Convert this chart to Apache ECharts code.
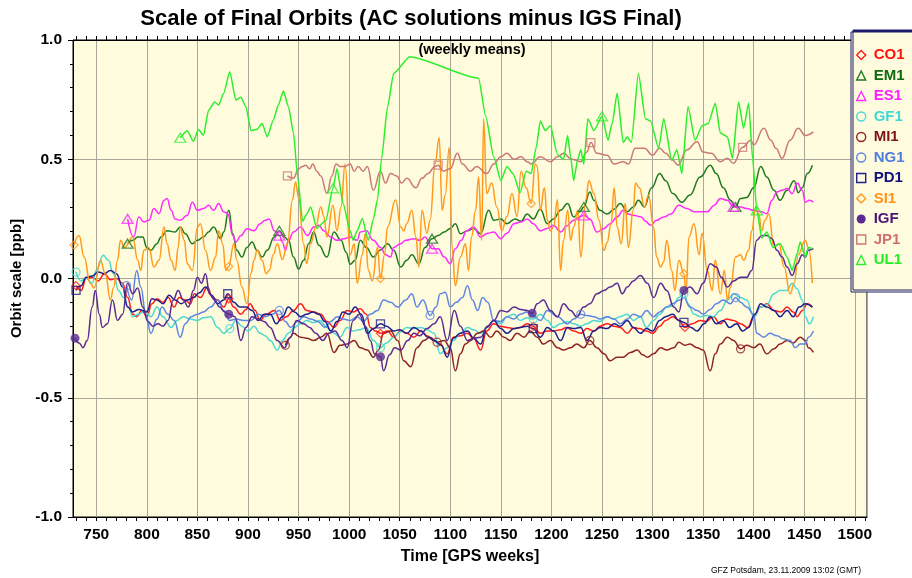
<!DOCTYPE html>
<html>
<head>
<meta charset="utf-8">
<script src="https://cdn.jsdelivr.net/npm/echarts@6/dist/echarts.min.js"></script>
<style>
html,body{margin:0;padding:0;background:#fff}
#chart{width:912px;height:578px}
</style>
</head>
<body>
<div id="chart"></div>
<script>
// Axis ticks
const xTickLabels = [750, 800, 850, 900, 950, 1000, 1050, 1100, 1150, 1200, 1250, 1300, 1350, 1400, 1450, 1500];
const xMinorTicks = [730, 740, 750, 760, 770, 780, 790, 800, 810, 820, 830, 840, 850, 860, 870, 880, 890, 900, 910, 920, 930, 940, 950, 960, 970, 980, 990, 1000, 1010, 1020, 1030, 1040, 1050, 1060, 1070, 1080, 1090, 1100, 1110, 1120, 1130, 1140, 1150, 1160, 1170, 1180, 1190, 1200, 1210, 1220, 1230, 1240, 1250, 1260, 1270, 1280, 1290, 1300, 1310, 1320, 1330, 1340, 1350, 1360, 1370, 1380, 1390, 1400, 1410, 1420, 1430, 1440, 1450, 1460, 1470, 1480, 1490, 1500, 1510];
const yTickLabels = [-1.0, -0.5, 0.0, 0.5, 1.0];

// Weekly orbit scale per analysis centre: [GPS week, ppb]
const co1 = [[730,-0.03],[735,-0.05],[740,0.0],[746,0.005],[752,-0.01],[758,0.02],[764,-0.005],[770,0.0],[776,-0.02],[781,-0.08],[786,-0.15],[790,-0.16],[795,-0.134],[800,-0.16],[805,-0.106],[810,-0.085],[816,-0.1],[821,-0.08],[827,-0.12],[832,-0.08],[838,-0.09],[843,-0.106],[847,-0.064],[853,-0.08],[860,-0.036],[865,-0.08],[870,-0.09],[876,-0.12],[881,-0.085],[886,-0.12],[893,-0.15],[898,-0.13],[902,-0.106],[907,-0.134],[912,-0.176],[918,-0.15],[926,-0.134],[932,-0.176],[938,-0.16],[945,-0.134],[952,-0.106],[958,-0.134],[965,-0.14],[972,-0.15],[978,-0.18],[985,-0.205],[991,-0.176],[998,-0.134],[1004,-0.14],[1011,-0.127],[1017,-0.15],[1021,-0.205],[1026,-0.22],[1031,-0.23],[1038,-0.22],[1044,-0.246],[1051,-0.22],[1057,-0.23],[1064,-0.246],[1071,-0.22],[1077,-0.24],[1084,-0.26],[1090,-0.275],[1097,-0.316],[1103,-0.246],[1110,-0.24],[1117,-0.23],[1123,-0.25],[1130,-0.30],[1136,-0.22],[1143,-0.19],[1149,-0.2],[1156,-0.205],[1163,-0.21],[1169,-0.205],[1176,-0.19],[1182,-0.2],[1189,-0.23],[1196,-0.22],[1202,-0.22],[1209,-0.215],[1215,-0.205],[1222,-0.22],[1229,-0.23],[1235,-0.21],[1242,-0.22],[1248,-0.2],[1255,-0.19],[1262,-0.2],[1268,-0.205],[1275,-0.23],[1281,-0.205],[1287,-0.21],[1294,-0.22],[1300,-0.23],[1307,-0.2],[1313,-0.176],[1320,-0.16],[1326,-0.176],[1332,-0.205],[1339,-0.19],[1347,-0.176],[1353,-0.18],[1360,-0.16],[1367,-0.19],[1373,-0.17],[1380,-0.176],[1387,-0.19],[1394,-0.205],[1400,-0.16],[1407,-0.12],[1413,-0.106],[1420,-0.134],[1427,-0.14],[1433,-0.12],[1439,-0.14],[1443,-0.16],[1448,-0.134],[1453,-0.106],[1458,-0.12]];

const em1 = [[781,0.146],[786,0.16],[791,0.174],[796,0.174],[800,0.13],[804,0.118],[810,0.146],[814,0.174],[820,0.2],[828,0.195],[833,0.216],[838,0.188],[845,0.146],[850,0.16],[856,0.174],[861,0.195],[866,0.216],[873,0.167],[876,0.195],[881,0.286],[885,0.188],[889,0.118],[894,0.09],[899,0.13],[904,0.153],[909,0.118],[914,0.09],[919,0.118],[926,0.174],[931,0.2],[936,0.174],[940,0.16],[945,0.09],[950,0.04],[955,0.076],[960,0.146],[965,0.195],[970,0.139],[978,0.09],[985,0.195],[992,0.16],[997,0.11],[1001,0.06],[1006,0.076],[1011,0.16],[1017,0.13],[1024,0.09],[1031,0.12],[1038,0.146],[1044,0.118],[1051,0.048],[1057,0.076],[1062,0.10],[1069,0.062],[1075,0.13],[1082,0.167],[1088,0.18],[1094,0.195],[1100,0.21],[1105,0.23],[1110,0.188],[1117,0.2],[1123,0.21],[1130,0.188],[1138,0.286],[1143,0.244],[1150,0.25],[1156,0.23],[1164,0.25],[1170,0.24],[1176,0.27],[1182,0.25],[1189,0.29],[1196,0.23],[1202,0.25],[1209,0.286],[1216,0.314],[1222,0.258],[1228,0.28],[1232,0.30],[1238,0.363],[1242,0.328],[1248,0.286],[1255,0.27],[1262,0.29],[1268,0.314],[1275,0.28],[1281,0.30],[1286,0.328],[1292,0.30],[1299,0.38],[1307,0.44],[1313,0.41],[1320,0.356],[1329,0.32],[1337,0.35],[1347,0.426],[1357,0.475],[1363,0.44],[1370,0.38],[1377,0.328],[1382,0.30],[1387,0.335],[1393,0.34],[1400,0.38],[1407,0.47],[1413,0.426],[1420,0.37],[1426,0.328],[1433,0.37],[1440,0.41],[1444,0.36],[1448,0.38],[1453,0.44],[1458,0.475]];

const es1 = [[781,0.25],[787,0.174],[792,0.258],[797,0.237],[802,0.244],[807,0.293],[812,0.272],[817,0.328],[820,0.335],[824,0.286],[828,0.25],[833,0.244],[840,0.265],[845,0.32],[850,0.286],[856,0.293],[861,0.307],[866,0.286],[871,0.314],[876,0.28],[880,0.272],[885,0.18],[888,0.153],[893,0.18],[899,0.209],[906,0.2],[912,0.23],[917,0.244],[921,0.25],[926,0.2],[931,0.18],[934,0.153],[937,0.118],[940,0.16],[945,0.195],[952,0.216],[959,0.18],[965,0.216],[970,0.223],[975,0.2],[982,0.174],[988,0.16],[995,0.167],[1001,0.174],[1008,0.16],[1011,0.195],[1017,0.2],[1024,0.16],[1031,0.13],[1036,0.10],[1041,0.09],[1044,0.13],[1051,0.146],[1056,0.16],[1064,0.167],[1070,0.16],[1075,0.174],[1082,0.125],[1088,0.125],[1094,0.09],[1100,0.062],[1105,0.125],[1111,0.16],[1116,0.2],[1123,0.216],[1130,0.174],[1137,0.19],[1143,0.195],[1150,0.167],[1156,0.19],[1163,0.23],[1170,0.237],[1176,0.25],[1182,0.23],[1189,0.2],[1196,0.21],[1202,0.223],[1209,0.195],[1215,0.22],[1222,0.244],[1228,0.258],[1232,0.265],[1238,0.25],[1245,0.195],[1252,0.21],[1258,0.23],[1265,0.258],[1271,0.286],[1276,0.27],[1281,0.265],[1289,0.258],[1293,0.24],[1298,0.223],[1304,0.244],[1311,0.258],[1318,0.27],[1326,0.307],[1334,0.293],[1341,0.28],[1347,0.28],[1354,0.28],[1361,0.307],[1367,0.335],[1374,0.328],[1380,0.30],[1387,0.30],[1393,0.293],[1400,0.286],[1407,0.28],[1413,0.272],[1418,0.328],[1423,0.363],[1428,0.37],[1433,0.377],[1438,0.356],[1443,0.40],[1448,0.37],[1451,0.32],[1455,0.328],[1459,0.32]];

const gf1 = [[730,0.027],[735,-0.01],[740,0.0],[746,-0.02],[750,0.034],[757,0.097],[762,0.076],[767,0.02],[772,-0.05],[777,-0.08],[782,-0.12],[786,-0.16],[792,-0.15],[798,-0.134],[804,-0.16],[810,-0.12],[816,-0.16],[824,-0.205],[830,-0.176],[836,-0.16],[843,-0.17],[850,-0.176],[856,-0.165],[863,-0.16],[870,-0.205],[876,-0.23],[882,-0.21],[888,-0.176],[894,-0.2],[900,-0.22],[906,-0.2],[912,-0.23],[917,-0.24],[922,-0.26],[929,-0.30],[934,-0.26],[940,-0.23],[946,-0.205],[952,-0.19],[958,-0.176],[965,-0.185],[971,-0.176],[978,-0.205],[985,-0.23],[991,-0.246],[998,-0.205],[1004,-0.22],[1010,-0.215],[1017,-0.205],[1024,-0.26],[1031,-0.29],[1037,-0.27],[1044,-0.246],[1050,-0.225],[1057,-0.205],[1064,-0.21],[1071,-0.205],[1077,-0.215],[1084,-0.23],[1090,-0.316],[1097,-0.29],[1103,-0.26],[1110,-0.23],[1117,-0.205],[1123,-0.215],[1130,-0.23],[1137,-0.2],[1143,-0.176],[1150,-0.19],[1156,-0.16],[1163,-0.15],[1169,-0.176],[1176,-0.165],[1182,-0.17],[1189,-0.15],[1196,-0.176],[1202,-0.205],[1209,-0.19],[1216,-0.18],[1222,-0.19],[1229,-0.2],[1235,-0.19],[1242,-0.176],[1248,-0.18],[1255,-0.16],[1262,-0.17],[1268,-0.16],[1275,-0.15],[1281,-0.176],[1288,-0.16],[1294,-0.205],[1301,-0.176],[1307,-0.15],[1314,-0.12],[1320,-0.115],[1326,-0.08],[1331,-0.064],[1335,-0.106],[1341,-0.15],[1347,-0.16],[1354,-0.155],[1360,-0.16],[1367,-0.134],[1374,-0.09],[1380,-0.064],[1387,-0.08],[1393,-0.09],[1400,-0.16],[1407,-0.12],[1413,-0.11],[1420,-0.064],[1426,-0.05],[1433,-0.05],[1438,-0.02],[1443,-0.044],[1448,-0.09],[1451,-0.16],[1455,-0.19],[1459,-0.16]];

const mi1 = [[937,-0.28],[941,-0.25],[945,-0.23],[952,-0.246],[958,-0.25],[965,-0.26],[972,-0.246],[978,-0.23],[985,-0.31],[991,-0.28],[998,-0.275],[1005,-0.26],[1011,-0.29],[1018,-0.30],[1024,-0.33],[1029,-0.30],[1034,-0.23],[1041,-0.22],[1048,-0.26],[1054,-0.345],[1061,-0.37],[1067,-0.29],[1074,-0.26],[1080,-0.246],[1087,-0.267],[1094,-0.26],[1100,-0.29],[1105,-0.387],[1110,-0.316],[1115,-0.275],[1120,-0.26],[1127,-0.23],[1133,-0.22],[1140,-0.246],[1146,-0.22],[1153,-0.246],[1159,-0.26],[1166,-0.23],[1173,-0.246],[1179,-0.22],[1186,-0.246],[1192,-0.275],[1199,-0.26],[1206,-0.29],[1212,-0.30],[1219,-0.29],[1225,-0.275],[1232,-0.29],[1238,-0.26],[1245,-0.29],[1252,-0.316],[1258,-0.345],[1265,-0.33],[1271,-0.33],[1278,-0.31],[1285,-0.30],[1290,-0.32],[1295,-0.33],[1301,-0.316],[1308,-0.29],[1314,-0.30],[1321,-0.29],[1326,-0.267],[1332,-0.28],[1337,-0.275],[1344,-0.29],[1350,-0.30],[1357,-0.387],[1362,-0.316],[1367,-0.275],[1374,-0.246],[1380,-0.26],[1387,-0.295],[1393,-0.28],[1400,-0.29],[1406,-0.275],[1413,-0.316],[1420,-0.295],[1426,-0.275],[1433,-0.26],[1439,-0.27],[1446,-0.246],[1451,-0.26],[1454,-0.29],[1459,-0.31]];

const ng1 = [[780,-0.03],[785,-0.09],[790,0.034],[794,-0.036],[799,-0.15],[804,-0.23],[810,-0.17],[815,-0.12],[821,-0.15],[827,-0.176],[833,-0.246],[838,-0.19],[844,-0.16],[850,-0.15],[856,-0.14],[863,-0.12],[870,-0.09],[876,-0.134],[882,-0.176],[888,-0.17],[896,-0.176],[903,-0.176],[910,-0.15],[917,-0.16],[924,-0.15],[931,-0.134],[937,-0.18],[942,-0.205],[949,-0.18],[955,-0.16],[962,-0.17],[969,-0.18],[976,-0.205],[982,-0.18],[988,-0.16],[994,-0.17],[1001,-0.176],[1008,-0.16],[1014,-0.18],[1021,-0.15],[1028,-0.134],[1034,-0.09],[1041,-0.1],[1048,-0.12],[1056,-0.09],[1062,-0.064],[1067,-0.12],[1073,-0.09],[1080,-0.155],[1086,-0.12],[1090,-0.064],[1095,-0.058],[1100,-0.12],[1106,-0.1],[1112,-0.08],[1117,-0.03],[1122,-0.09],[1127,-0.134],[1132,-0.08],[1137,-0.1],[1143,-0.176],[1150,-0.18],[1156,-0.16],[1163,-0.17],[1169,-0.15],[1176,-0.14],[1183,-0.16],[1189,-0.176],[1196,-0.134],[1206,-0.16],[1216,-0.19],[1222,-0.17],[1229,-0.15],[1235,-0.155],[1242,-0.16],[1248,-0.17],[1255,-0.16],[1262,-0.17],[1268,-0.19],[1275,-0.17],[1281,-0.15],[1288,-0.16],[1294,-0.134],[1301,-0.16],[1307,-0.14],[1314,-0.12],[1320,-0.105],[1327,-0.09],[1331,-0.08],[1337,-0.12],[1344,-0.134],[1350,-0.15],[1357,-0.13],[1363,-0.106],[1370,-0.09],[1377,-0.106],[1382,-0.08],[1387,-0.1],[1393,-0.12],[1400,-0.15],[1403,-0.23],[1410,-0.246],[1416,-0.23],[1423,-0.24],[1429,-0.253],[1436,-0.26],[1441,-0.29],[1446,-0.275],[1451,-0.275],[1454,-0.246],[1459,-0.22]];

const pd1 = [[730,-0.05],[735,-0.03],[740,0.005],[746,0.01],[752,0.027],[758,0.02],[764,0.034],[770,0.02],[776,-0.036],[781,-0.12],[786,-0.14],[792,-0.13],[800,-0.14],[805,-0.085],[810,-0.09],[816,-0.106],[822,-0.07],[828,-0.09],[834,-0.106],[840,-0.09],[846,-0.08],[852,-0.06],[858,-0.036],[864,-0.07],[870,-0.106],[876,-0.09],[880,-0.064],[886,-0.1],[892,-0.12],[898,-0.12],[904,-0.134],[910,-0.176],[916,-0.15],[922,-0.15],[928,-0.19],[934,-0.16],[940,-0.12],[946,-0.14],[952,-0.16],[958,-0.15],[964,-0.14],[970,-0.15],[976,-0.18],[982,-0.22],[988,-0.18],[994,-0.14],[1000,-0.15],[1006,-0.12],[1012,-0.15],[1018,-0.23],[1024,-0.21],[1031,-0.19],[1037,-0.2],[1044,-0.22],[1050,-0.215],[1057,-0.23],[1064,-0.205],[1071,-0.22],[1078,-0.246],[1084,-0.26],[1091,-0.28],[1097,-0.33],[1103,-0.25],[1110,-0.23],[1117,-0.22],[1123,-0.25],[1130,-0.275],[1136,-0.205],[1143,-0.176],[1150,-0.21],[1156,-0.23],[1163,-0.21],[1169,-0.205],[1176,-0.2],[1182,-0.21],[1189,-0.246],[1196,-0.205],[1202,-0.22],[1209,-0.26],[1216,-0.205],[1222,-0.21],[1229,-0.205],[1235,-0.26],[1242,-0.22],[1248,-0.205],[1255,-0.21],[1262,-0.19],[1268,-0.2],[1275,-0.176],[1281,-0.205],[1288,-0.23],[1294,-0.21],[1300,-0.22],[1307,-0.176],[1313,-0.16],[1320,-0.15],[1326,-0.176],[1331,-0.184],[1338,-0.205],[1344,-0.22],[1351,-0.19],[1357,-0.16],[1363,-0.19],[1370,-0.176],[1376,-0.205],[1383,-0.19],[1389,-0.22],[1395,-0.205],[1401,-0.15],[1407,-0.106],[1413,-0.12],[1420,-0.134],[1426,-0.16],[1433,-0.134],[1439,-0.16],[1445,-0.12],[1451,-0.106],[1458,-0.12]];

const si1 = [[728,0.14],[733,0.18],[738,0.09],[744,-0.02],[748,-0.04],[754,0.076],[759,0.02],[764,-0.09],[767,-0.04],[771,0.076],[774,0.16],[778,0.13],[786,0.174],[791,0.076],[794,0.034],[797,0.118],[802,0.13],[807,0.048],[812,0.076],[817,0.216],[820,0.146],[824,0.076],[828,0.034],[831,0.13],[833,0.216],[837,0.16],[840,0.062],[845,0.034],[850,0.216],[853,0.23],[858,0.118],[863,0.034],[868,0.09],[871,0.2],[875,0.146],[878,0.034],[881,0.05],[886,0.146],[889,0.076],[894,-0.036],[899,-0.106],[903,0.022],[906,0.076],[909,0.118],[914,0.076],[918,0.02],[921,0.034],[925,0.10],[929,0.146],[934,0.08],[939,0.146],[944,0.33],[947,0.405],[950,0.34],[955,0.146],[958,0.062],[962,0.146],[967,0.216],[972,0.30],[975,0.26],[978,0.174],[984,0.307],[988,0.20],[992,0.30],[996,0.48],[1001,0.10],[1005,0.146],[1008,-0.02],[1013,0.10],[1016,0.19],[1019,0.034],[1023,-0.01],[1028,0.13],[1031,0.0],[1035,0.10],[1038,0.216],[1046,0.33],[1051,0.216],[1054,0.20],[1057,0.23],[1062,0.286],[1066,0.174],[1069,0.048],[1072,0.286],[1077,0.19],[1080,0.244],[1085,0.48],[1089,0.59],[1092,0.286],[1095,0.35],[1099,0.55],[1102,0.118],[1105,-0.03],[1110,0.09],[1115,0.146],[1118,0.034],[1121,0.174],[1125,0.286],[1128,0.426],[1131,0.16],[1133,0.67],[1136,0.356],[1141,0.40],[1146,0.30],[1151,0.2],[1156,0.26],[1161,0.356],[1166,0.26],[1170,0.45],[1175,0.38],[1180,0.314],[1184,0.48],[1186,0.47],[1189,0.286],[1193,0.38],[1196,0.244],[1199,0.20],[1202,0.216],[1206,0.33],[1209,0.034],[1212,0.16],[1216,0.286],[1219,0.16],[1222,0.216],[1226,0.286],[1229,0.09],[1234,0.33],[1237,0.41],[1242,0.356],[1247,0.244],[1252,0.118],[1255,0.15],[1259,0.23],[1262,0.38],[1265,0.216],[1269,0.146],[1273,0.314],[1276,0.13],[1281,0.286],[1283,0.40],[1287,0.38],[1292,0.30],[1296,0.35],[1301,0.216],[1304,0.09],[1308,0.048],[1311,0.07],[1314,0.16],[1319,0.034],[1322,-0.05],[1326,0.076],[1331,0.02],[1333,-0.06],[1336,0.174],[1341,0.23],[1346,0.10],[1349,0.19],[1354,0.034],[1359,-0.05],[1362,0.076],[1367,-0.065],[1371,0.034],[1374,-0.09],[1377,-0.036],[1382,0.09],[1387,0.10],[1390,0.076],[1395,0.118],[1398,0.20],[1402,0.30],[1405,0.27],[1408,0.20],[1411,0.244],[1415,0.27],[1420,0.13],[1425,0.146],[1430,0.048],[1436,-0.065],[1440,-0.02],[1444,0.10],[1451,0.16],[1454,0.13],[1458,-0.02]];

const igf = [[729,-0.25],[733,-0.27],[737,-0.29],[741,-0.26],[746,-0.12],[749,-0.05],[753,-0.15],[756,-0.205],[761,-0.19],[766,-0.09],[771,-0.176],[776,-0.15],[781,-0.02],[786,-0.064],[791,-0.04],[796,-0.12],[801,-0.18],[806,-0.2],[811,-0.19],[816,-0.2],[821,-0.176],[826,-0.09],[831,-0.05],[836,-0.09],[841,-0.12],[846,-0.05],[850,0.005],[854,-0.02],[858,0.02],[862,-0.064],[867,-0.09],[872,-0.12],[877,-0.14],[881,-0.15],[887,-0.16],[893,-0.26],[898,-0.205],[904,-0.16],[910,-0.17],[916,-0.18],[922,-0.205],[929,-0.26],[936,-0.29],[942,-0.246],[948,-0.176],[955,-0.19],[961,-0.205],[967,-0.23],[974,-0.26],[980,-0.23],[986,-0.22],[993,-0.26],[998,-0.29],[1004,-0.176],[1010,-0.15],[1016,-0.2],[1021,-0.26],[1025,-0.316],[1031,-0.328],[1034,-0.387],[1040,-0.32],[1045,-0.29],[1051,-0.30],[1058,-0.26],[1064,-0.23],[1070,-0.24],[1077,-0.21],[1084,-0.19],[1090,-0.16],[1097,-0.26],[1104,-0.134],[1110,-0.2],[1117,-0.26],[1123,-0.25],[1130,-0.246],[1137,-0.2],[1143,-0.176],[1150,-0.134],[1156,-0.14],[1163,-0.12],[1170,-0.13],[1176,-0.134],[1181,-0.146],[1186,-0.106],[1192,-0.09],[1199,-0.134],[1206,-0.16],[1212,-0.106],[1219,-0.134],[1225,-0.16],[1232,-0.12],[1238,-0.106],[1245,-0.064],[1252,-0.05],[1258,-0.036],[1265,-0.02],[1270,-0.064],[1275,-0.036],[1281,-0.01],[1288,0.013],[1295,-0.02],[1301,-0.08],[1308,-0.02],[1314,-0.05],[1321,-0.12],[1326,-0.14],[1331,-0.05],[1337,-0.036],[1344,-0.064],[1350,-0.02],[1357,0.062],[1363,0.048],[1368,0.005],[1374,-0.036],[1380,-0.01],[1387,0.005],[1393,0.005],[1398,0.034],[1403,0.16],[1408,0.18],[1413,0.18],[1418,0.167],[1423,0.118],[1428,0.09],[1433,0.048],[1438,0.013],[1443,0.062],[1448,0.10],[1451,0.09],[1454,0.118],[1459,0.125]];

const jp1 = [[939,0.43],[945,0.42],[950,0.46],[954,0.47],[957,0.475],[961,0.46],[964,0.48],[968,0.45],[972,0.43],[978,0.357],[983,0.43],[987,0.48],[991,0.47],[996,0.47],[1001,0.48],[1005,0.45],[1009,0.47],[1014,0.45],[1018,0.47],[1024,0.37],[1031,0.45],[1036,0.40],[1041,0.44],[1047,0.43],[1052,0.40],[1057,0.42],[1066,0.38],[1072,0.42],[1078,0.44],[1085,0.47],[1088,0.475],[1093,0.45],[1100,0.46],[1107,0.525],[1112,0.48],[1120,0.45],[1126,0.47],[1136,0.44],[1143,0.48],[1150,0.51],[1156,0.525],[1163,0.5],[1170,0.51],[1176,0.49],[1180,0.48],[1189,0.51],[1199,0.49],[1206,0.51],[1212,0.525],[1220,0.5],[1229,0.49],[1235,0.53],[1239,0.57],[1245,0.525],[1255,0.517],[1262,0.48],[1271,0.49],[1276,0.48],[1283,0.546],[1292,0.546],[1300,0.517],[1307,0.546],[1313,0.525],[1320,0.496],[1325,0.475],[1334,0.54],[1344,0.573],[1350,0.53],[1358,0.525],[1367,0.49],[1374,0.504],[1380,0.483],[1389,0.55],[1397,0.58],[1400,0.56],[1410,0.63],[1417,0.58],[1422,0.546],[1428,0.504],[1436,0.58],[1444,0.63],[1451,0.60],[1459,0.615]];

const ul1 = [[833,0.59],[840,0.62],[846,0.575],[851,0.625],[856,0.60],[861,0.705],[867,0.74],[871,0.727],[876,0.777],[882,0.867],[888,0.748],[893,0.76],[898,0.72],[903,0.62],[909,0.626],[914,0.65],[919,0.594],[925,0.664],[930,0.727],[935,0.786],[940,0.72],[945,0.61],[949,0.43],[954,0.24],[958,0.27],[962,0.30],[968,0.21],[977,0.244],[984,0.378],[988,0.46],[994,0.315],[1001,0.2],[1004,0.16],[1008,0.2],[1013,0.252],[1019,0.16],[1024,0.25],[1028,0.33],[1032,0.50],[1038,0.72],[1044,0.86],[1060,0.93],[1128,0.84],[1135,0.68],[1143,0.51],[1150,0.41],[1156,0.47],[1162,0.44],[1169,0.36],[1175,0.45],[1180,0.44],[1185,0.55],[1189,0.66],[1194,0.62],[1199,0.64],[1206,0.52],[1212,0.5],[1216,0.6],[1219,0.51],[1222,0.41],[1226,0.5],[1229,0.54],[1232,0.48],[1236,0.67],[1242,0.62],[1250,0.68],[1256,0.58],[1260,0.65],[1265,0.777],[1271,0.57],[1275,0.594],[1279,0.57],[1286,0.86],[1293,0.67],[1298,0.66],[1306,0.546],[1311,0.67],[1319,0.496],[1324,0.54],[1329,0.44],[1335,0.72],[1342,0.58],[1349,0.64],[1355,0.65],[1362,0.735],[1367,0.61],[1374,0.594],[1379,0.504],[1385,0.74],[1390,0.63],[1395,0.735],[1399,0.5],[1403,0.286],[1408,0.17],[1413,0.195],[1419,0.13],[1426,0.147],[1433,0.09],[1438,0.034],[1443,0.105],[1446,0.153],[1451,0.09],[1454,0.13],[1458,0.126]];

// Weeks carrying a symbol on each curve
const co1Marks = [730, 880, 1031, 1181, 1332];
const em1Marks = [781, 931, 1082, 1232, 1382];
const es1Marks = [781, 931, 1082, 1232, 1380];
const gf1Marks = [730, 880, 1031, 1180, 1331];
const mi1Marks = [937, 1087, 1238, 1387];
const ng1Marks = [780, 931, 1080, 1232, 1382];
const pd1Marks = [730, 880, 1031, 1181, 1331];
const si1Marks = [728, 881, 1031, 1180, 1331];
const igfMarks = [729, 881, 1031, 1181, 1331];
const jp1Marks = [939, 1088, 1239, 1389];
const ul1Marks = [833, 984, 1250, 1403];

const FONT = '"Liberation Sans", Arial, Helvetica, sans-serif';

const centres = [
  { name: 'CO1', data: co1, marks: co1Marks, color: '#ff1c1c', text: '#ff1010', symbol: 'diamond' },
  { name: 'EM1', data: em1, marks: em1Marks, color: '#1f7a1f', text: '#0f6a12', symbol: 'triangle' },
  { name: 'ES1', data: es1, marks: es1Marks, color: '#ff2cff', text: '#ff20ff', symbol: 'triangle' },
  { name: 'GF1', data: gf1, marks: gf1Marks, color: '#4cd9d2', text: '#44d8d4', symbol: 'circle' },
  { name: 'MI1', data: mi1, marks: mi1Marks, color: '#8e2424', text: '#7e1414', symbol: 'circle' },
  { name: 'NG1', data: ng1, marks: ng1Marks, color: '#5f86e2', text: '#4f7ee0', symbol: 'circle' },
  { name: 'PD1', data: pd1, marks: pd1Marks, color: '#1e1e8e', text: '#10107e', symbol: 'rect' },
  { name: 'SI1', data: si1, marks: si1Marks, color: '#ff9a1e', text: '#ff9418', symbol: 'diamond' },
  { name: 'IGF', data: igf, marks: igfMarks, color: '#5b2a92', text: '#4a1278', symbol: 'circle', filled: true },
  { name: 'JP1', data: jp1, marks: jp1Marks, color: '#cc7874', text: '#d07070', symbol: 'rect' },
  { name: 'UL1', data: ul1, marks: ul1Marks, color: '#2cee2c', text: '#22ee22', symbol: 'triangle' }
];

// nearest weekly value to a marked week
function pointAt(data, week) {
  let best = data[0];
  for (const p of data) if (Math.abs(p[0] - week) < Math.abs(best[0] - week)) best = p;
  return best;
}

const series = [];
centres.forEach(c => {
  series.push({
    name: c.name, type: 'line', data: c.data, showSymbol: false, symbol: 'none',
    smooth: c.name === 'UL1' ? 0.2 : 0.45, smoothMonotone: 'x',
    lineStyle: { color: c.color, width: 1.5 }, itemStyle: { color: c.color },
    emphasis: { disabled: true }, z: 3
  });
  series.push({
    name: c.name, type: 'scatter', data: c.marks.map(w => pointAt(c.data, w)),
    symbol: c.symbol,
    symbolSize: c.symbol === 'triangle' ? [11, 9] : (c.filled ? 9 : 8),
    itemStyle: c.filled ? { color: c.color } : { color: 'rgba(0,0,0,0)', borderColor: c.color, borderWidth: 1.3 },
    emphasis: { disabled: true }, z: 4
  });
});

// bottom axis (labels, grid) plus two tick-only axes for the 10-week marks
const xRange = { type: 'value', min: 727, max: 1512, splitNumber: 15, minInterval: 50, maxInterval: 50 };

const chart = echarts.init(document.getElementById('chart'), null, { renderer: 'canvas' });
chart.setOption({
  animation: false,
  backgroundColor: '#ffffff',
  grid: { left: 73, top: 40, right: 45, bottom: 61, show: true, backgroundColor: '#fffcdd', borderColor: '#000', borderWidth: 1 },
  graphic: [
    { type: 'text', x: 411, y: 19, style: { text: 'Scale of Final Orbits (AC solutions minus IGS Final)', font: 'bold 22px ' + FONT, fill: '#000', align: 'center', verticalAlign: 'middle' } },
    { type: 'text', x: 472, y: 50, z: 10, style: { text: '(weekly means)', font: 'bold 14.5px ' + FONT, fill: '#000', align: 'center', verticalAlign: 'middle' } },
    { type: 'text', x: 786, y: 571, style: { text: 'GFZ Potsdam, 23.11.2009 13:02 (GMT)', font: '8.5px ' + FONT, fill: '#000', align: 'center', verticalAlign: 'middle' } }
  ],
  legend: {
    orient: 'vertical', left: 851, top: 32,
    padding: [15, 40, 24, 5], itemWidth: 9, itemHeight: 9, itemGap: 4.5,
    backgroundColor: '#fffbdf', borderColor: '#1c1c6a', borderWidth: 1,
    shadowColor: '#1c1c6a', shadowBlur: 0, shadowOffsetX: 2, shadowOffsetY: -2,
    selectedMode: false,
    textStyle: { fontFamily: FONT, fontWeight: 'bold', fontSize: 15, lineHeight: 16, padding: [0, 0, 0, 3] },
    data: centres.map(c => ({
      name: c.name, icon: c.symbol,
      itemStyle: c.filled ? { color: c.color, borderWidth: 0 } : { color: 'rgba(0,0,0,0)', borderColor: c.color, borderWidth: 1.4 },
      textStyle: { color: c.text }
    }))
  },
  xAxis: [
    Object.assign({}, xRange, {
      position: 'bottom',
      axisLine: { show: true, onZero: false, lineStyle: { color: '#000', width: 1 } },
      axisTick: { show: false },
      axisLabel: { color: '#000', fontFamily: FONT, fontWeight: 'bold', fontSize: 15.5, margin: 10,
        showMinLabel: false, showMaxLabel: false,
        formatter: v => (xTickLabels.indexOf(v) >= 0 ? String(v) : '') },
      splitLine: { show: true, lineStyle: { color: '#a9a79a', width: 1 } },
      name: 'Time [GPS weeks]', nameLocation: 'middle', nameGap: 32,
      nameTextStyle: { color: '#000', fontFamily: FONT, fontWeight: 'bold', fontSize: 16 }
    }),
    Object.assign({}, xRange, {
      position: 'top',
      axisLine: { show: true, onZero: false, lineStyle: { color: '#000', width: 1 } },
      axisTick: { show: true, customValues: xMinorTicks, length: 4, lineStyle: { color: '#000' } },
      axisLabel: { show: false }, splitLine: { show: false }
    }),
    Object.assign({}, xRange, {
      position: 'bottom',
      axisLine: { show: false, onZero: false },
      axisTick: { show: true, customValues: xMinorTicks, length: 4, lineStyle: { color: '#000' } },
      axisLabel: { show: false }, splitLine: { show: false }
    })
  ],
  yAxis: {
    type: 'value', min: -1, max: 1, interval: 0.5,
    axisLine: { show: true, onZero: false, lineStyle: { color: '#000', width: 1 } },
    axisTick: { show: true, length: 5, lineStyle: { color: '#000' } },
    minorTick: { show: true, splitNumber: 5, length: 3, lineStyle: { color: '#000' } },
    axisLabel: { color: '#000', fontFamily: FONT, fontWeight: 'bold', fontSize: 15.5, margin: 11,
      formatter: v => (yTickLabels.find(t => Math.abs(t - v) < 1e-9) ?? v).toFixed(1) },
    splitLine: { show: true, lineStyle: { color: '#a9a79a', width: 1 } },
    name: 'Orbit scale [ppb]', nameLocation: 'middle', nameGap: 45, nameRotate: 90,
    nameTextStyle: { color: '#000', fontFamily: FONT, fontWeight: 'bold', fontSize: 15 }
  },
  series: series
});
</script>
</body>
</html>
